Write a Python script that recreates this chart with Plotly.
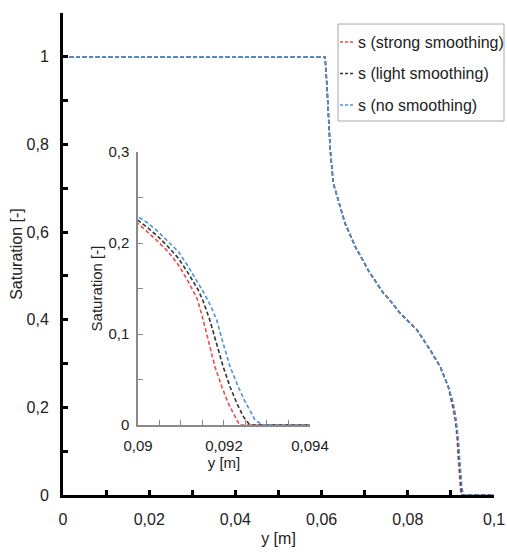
import plotly.graph_objects as go

# ---- data ----
# shared part of the profile (series overlap for y < 0.09 m)
x_shared = [0, 0.0608, 0.0612, 0.0616, 0.0620, 0.0627, 0.0639, 0.0654, 0.0678,
            0.0710, 0.0743, 0.0755, 0.0782, 0.0821, 0.0852, 0.0875, 0.0894]
s_shared = [1, 1, 0.94, 0.864, 0.788, 0.712, 0.674, 0.621, 0.567,
            0.51, 0.461, 0.449, 0.415, 0.377, 0.331, 0.293, 0.247]

x_strong = [0.09, 0.09024, 0.09047, 0.0907, 0.09094, 0.09117, 0.09137, 0.09148,
            0.09163, 0.09179, 0.09195, 0.0921, 0.09226, 0.09236, 0.1]
s_strong = [0.2216, 0.2107, 0.2014, 0.1904, 0.1758, 0.1575, 0.1395, 0.122,
            0.0925, 0.0641, 0.0421, 0.0238, 0.0091, 0, 0]

x_light = [0.09, 0.09024, 0.09047, 0.0907, 0.09094, 0.09117, 0.0914, 0.09152,
           0.09167, 0.09183, 0.09198, 0.09214, 0.0923, 0.09245, 0.0926, 0.1]
s_light = [0.2252, 0.2161, 0.2069, 0.1959, 0.1832, 0.1667, 0.1484, 0.1355,
           0.1154, 0.0898, 0.0641, 0.0421, 0.0238, 0.0091, 0, 0]

x_none = [0.09, 0.09024, 0.09047, 0.0907, 0.09094, 0.09117, 0.0914, 0.09156,
          0.0917, 0.09183, 0.09198, 0.09214, 0.09233, 0.09249, 0.09264, 0.09272, 0.0929, 0.1]
s_none = [0.2289, 0.2216, 0.2124, 0.2014, 0.1904, 0.174, 0.1557, 0.1429,
          0.130, 0.1154, 0.0898, 0.0641, 0.0421, 0.0256, 0.0129, 0.0055, 0, 0]

series_names = ["s (strong smoothing)", "s (light smoothing)", "s (no smoothing)"]
series_colors = ["#F04A4A", "#333333", "#4A93DA"]

main_x_ticks = [0, 0.02, 0.04, 0.06, 0.08, 0.1]
main_y_ticks = [0, 0.2, 0.4, 0.6, 0.8, 1]
inset_x_ticks = [0.09, 0.092, 0.094]
inset_y_ticks = [0, 0.1, 0.2, 0.3]

series = [(x_strong, s_strong), (x_light, s_light), (x_none, s_none)]

FONT = "Liberation Sans, Arial, sans-serif"
DASH = "4px,2.5px"

fig = go.Figure()
for i, ((xt, st), name, col) in enumerate(zip(series, series_names, series_colors)):
    fig.add_trace(go.Scatter(x=x_shared + xt, y=s_shared + st, mode="lines", name=name,
                             line=dict(color=col, width=1.6, dash=DASH),
                             xaxis="x", yaxis="y"))
for i, ((xt, st), name, col) in enumerate(zip(series, series_names, series_colors)):
    fig.add_trace(go.Scatter(x=x_shared + xt, y=s_shared + st, mode="lines", name=name,
                             line=dict(color=col, width=1.6, dash=DASH),
                             xaxis="x2", yaxis="y2"))

# ---- compact legend box (styled like the original) ----
W, H = 507, 552
box = dict(x0=338 / W, x1=504 / W, y0=1 - 121 / H, y1=1 - 24 / H)
fig.add_shape(type="rect", xref="paper", yref="paper", **box,
              line=dict(color="#a8a8a8", width=1), fillcolor="white", layer="above")
entry_y = [1 - 42 / H, 1 - 73.5 / H, 1 - 105 / H]
for name, col, yy in zip(series_names, series_colors, entry_y):
    fig.add_shape(type="line", xref="paper", yref="paper",
                  x0=340 / W, x1=353 / W, y0=yy, y1=yy,
                  line=dict(color=col, width=1.6, dash="3px,2px"), layer="above")
    fig.add_annotation(xref="paper", yref="paper", x=356 / W, y=yy, text=name,
                       showarrow=False, xanchor="left", yanchor="middle",
                       font=dict(family=FONT, size=16, color="#222"))

main_axis = dict(showline=True, linecolor="black", linewidth=3, showgrid=False,
                 zeroline=False, ticks="inside", ticklen=5, tickwidth=2.5,
                 tickcolor="black", tickfont=dict(family=FONT, size=16, color="#222"),
                 automargin=False)
inset_axis = dict(showline=True, linecolor="#8a8a8a", linewidth=1.5, showgrid=False,
                  zeroline=False, ticks="inside", ticklen=5, tickwidth=1.2,
                  tickcolor="#8a8a8a", tickfont=dict(family=FONT, size=15, color="#222"),
                  automargin=False)

fig.update_layout(
    width=W, height=H,
    margin=dict(l=0, r=0, t=0, b=0, autoexpand=False),
    paper_bgcolor="white", plot_bgcolor="rgba(0,0,0,0)",
    separators=",.",
    font=dict(family=FONT, size=16, color="#222"),
    showlegend=False,
    xaxis=dict(main_axis, domain=[0.1243, 0.9744], range=[0, 0.1],
               tickmode="array", tickvals=main_x_ticks, anchor="y",
               ticklabelstandoff=8,
               minor=dict(dtick=0.01, tick0=0, ticks="inside", ticklen=5,
                          tickwidth=2.5, tickcolor="black"),
               title=dict(text="y [m]", standoff=6,
                          font=dict(family=FONT, size=16, color="#222"))),
    yaxis=dict(main_axis, domain=[0.1033, 0.9764], range=[0, 1.1],
               tickmode="array", tickvals=main_y_ticks, anchor="x",
               ticklabelstandoff=8,
               minor=dict(dtick=0.1, tick0=0, ticks="inside", ticklen=5,
                          tickwidth=2.5, tickcolor="black"),
               title=dict(text="Saturation [-]", standoff=0,
                          font=dict(family=FONT, size=16, color="#222"))),
    xaxis2=dict(inset_axis, domain=[0.2722, 0.6114], range=[0.09, 0.094],
                tickmode="array", tickvals=inset_x_ticks, anchor="y2",
                ticklabelstandoff=6,
                minor=dict(dtick=0.0005, tick0=0.09, ticks="inside", ticklen=5,
                           tickwidth=1.2, tickcolor="#8a8a8a"),
                title=dict(text="y [m]", standoff=0,
                           font=dict(family=FONT, size=15, color="#222"))),
    yaxis2=dict(inset_axis, domain=[0.2301, 0.7246], range=[0, 0.3],
                tickmode="array", tickvals=inset_y_ticks, anchor="x2",
                ticklabelstandoff=4,
                minor=dict(dtick=0.05, tick0=0, ticks="inside", ticklen=5,
                           tickwidth=1.2, tickcolor="#8a8a8a"),
                title=dict(text="Saturation [-]", standoff=2,
                           font=dict(family=FONT, size=15, color="#222"))),
)

fig.write_html("out.html")
